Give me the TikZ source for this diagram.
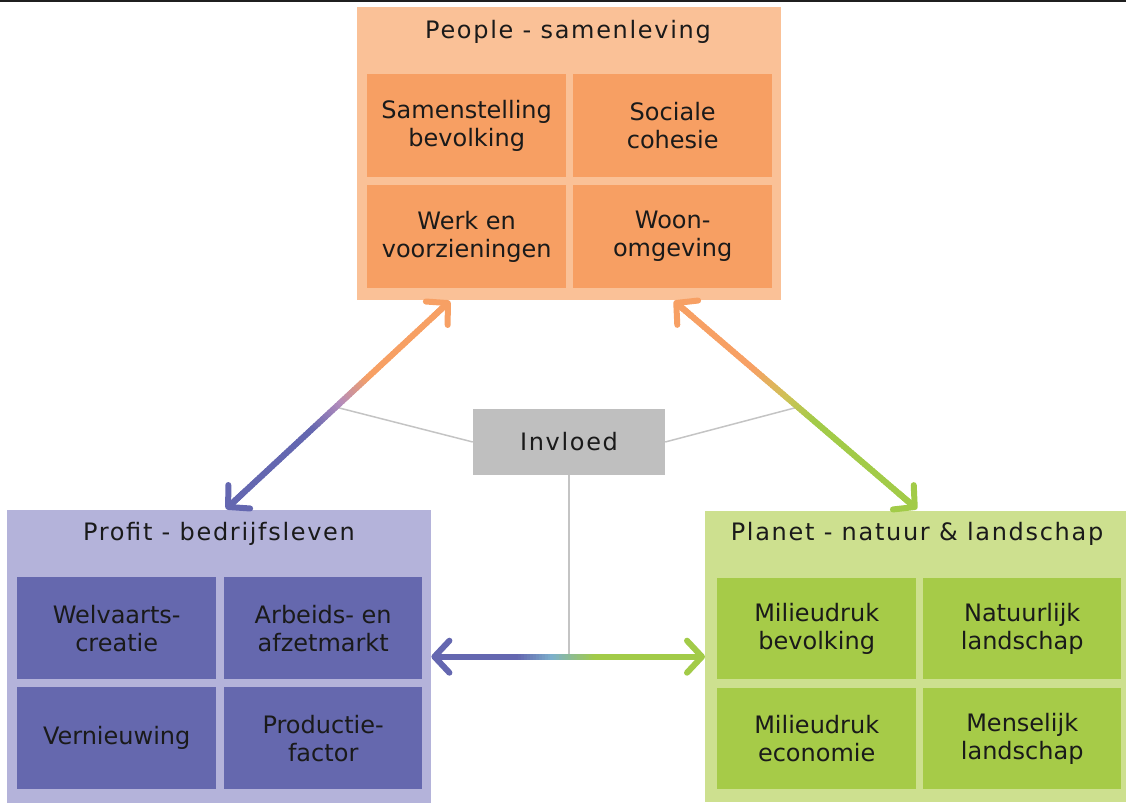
\documentclass[tikz,border=0pt]{standalone}
\usepackage{fontspec}
\setmainfont{DejaVu Sans}
\newfontfamily\titlefont[LetterSpace=7]{DejaVu Sans}
\usetikzlibrary{calc,arrows.meta}
\definecolor{peopleout}{HTML}{FAC197}
\definecolor{peoplein}{HTML}{F79F63}
\definecolor{profitout}{HTML}{B4B3DA}
\definecolor{profitin}{HTML}{6568AE}
\definecolor{planetout}{HTML}{CDE08F}
\definecolor{planetin}{HTML}{A6CB48}
\definecolor{invl}{HTML}{BFBFBF}
\definecolor{glines}{HTML}{C4C4C4}
\definecolor{aorange}{HTML}{F7A064}
\definecolor{apurple}{HTML}{6467B0}
\definecolor{agreen}{HTML}{A2CB48}
\definecolor{amauve}{HTML}{B48CBC}
\definecolor{ayellow}{HTML}{CFC257}
\definecolor{ablue}{HTML}{7CB0CC}
\definecolor{txt}{HTML}{1A1A1A}
% gradient line: #1 start, #2 end, #3 c1, #4 cmid, #5 c2, #6 t0, #7 tmid, #8 t1
\newcommand\mygradline[8]{%
  \foreach \i in {0,...,89}{%
    \pgfmathsetmacro\ta{\i/90}%
    \pgfmathsetmacro\tb{min(1,(\i+1.6)/90)}%
    \pgfmathsetmacro\tc{(\i+0.5)/90}%
    \ifdim\tc pt<#7pt
      \pgfmathtruncatemacro\p{max(0,min(100,(\tc-#6)/(#7-#6)*100))}%
      \colorlet{segc}{#4!\p!#3}%
    \else
      \pgfmathtruncatemacro\p{max(0,min(100,(\tc-#7)/(#8-#7)*100))}%
      \colorlet{segc}{#5!\p!#4}%
    \fi
    \draw[line width=6pt, segc] ($(#1)!\ta!(#2)$) -- ($(#1)!\tb!(#2)$);
  }%
}
\begin{document}
\begin{tikzpicture}[x=1pt,y=-1pt,
  outerbox/.style={anchor=north west, inner sep=0pt, minimum height=293pt, minimum width=424pt},
  cellbox/.style={anchor=north west, inner sep=0pt, minimum width=199pt, minimum height=103pt,
    align=center, text=txt, font=\fontsize{24}{28}\selectfont},
  titletext/.style={text=txt, inner sep=0pt, font=\titlefont\fontsize{24}{28}\selectfont},
  gline/.style={glines, line width=1.5pt},
  tipst/.style={line width=6pt, -{Straight Barb[length=15pt, width=32pt, round]}}]
\useasboundingbox (0,0) rectangle (1126,805);
\fill[black!88] (0,0) rectangle (1126,1.8);

% People
\node[outerbox, fill=peopleout] (people) at (357,7) {};
\node[titletext] (peopletitle) at (568,32) {People - samenleving};
\node[cellbox, fill=peoplein] (pe1) at (367,74) {Samenstelling\\bevolking};
\node[cellbox, fill=peoplein] (pe2) at (573,74) {Sociale\\cohesie};
\node[cellbox, fill=peoplein] (pe3) at (367,185) {Werk en\\voorzieningen};
\node[cellbox, fill=peoplein] (pe4) at (573,185) {Woon-\\omgeving};

% Profit
\node[outerbox, fill=profitout] (profit) at (7,510) {};
\node[titletext] (profittitle) at (219,534) {Profit - bedrijfsleven};
\node[cellbox, fill=profitin, minimum height=102pt] (pr1) at (17,577) {Welvaarts-\\creatie};
\node[cellbox, fill=profitin, minimum width=198pt, minimum height=102pt] (pr2) at (224,577) {Arbeids- en\\afzetmarkt};
\node[cellbox, fill=profitin, minimum height=102pt] (pr3) at (17,687) {Vernieuwing};
\node[cellbox, fill=profitin, minimum width=198pt, minimum height=102pt] (pr4) at (224,687) {Productie-\\factor};

% Planet
\node[outerbox, fill=planetout, minimum width=421pt, minimum height=291pt] (planet) at (705,511) {};
\node[titletext] (planettitle) at (917,534) {Planet - natuur \& landschap};
\node[cellbox, fill=planetin, minimum height=101pt] (pl1) at (717,578) {Milieudruk\\bevolking};
\node[cellbox, fill=planetin, minimum width=198pt, minimum height=101pt] (pl2) at (923,578) {Natuurlijk\\landschap};
\node[cellbox, fill=planetin, minimum height=101pt] (pl3) at (717,688) {Milieudruk\\economie};
\node[cellbox, fill=planetin, minimum width=198pt, minimum height=101pt] (pl4) at (923,688) {Menselijk\\landschap};

% Invloed
\node[fill=invl, minimum width=192pt, minimum height=66pt, inner sep=0pt,
  text=txt, font=\titlefont\fontsize{24}{28}\selectfont] (invloed) at (569,442) {Invloed};

% arrow end points
\coordinate (LT) at (450,301);
\coordinate (LB) at (226,509);
\coordinate (RT) at (674,301);
\coordinate (RB) at (917,509);
\coordinate (HL) at (profit.east);
\coordinate (HR) at (planet.west);
\coordinate (Lmid) at ($(LT)!0.51!(LB)$);
\coordinate (Rmid) at ($(RT)!0.51!(RB)$);
\coordinate (Hmid) at (invloed.south |- HL);

% grey lines
\draw[gline] (invloed.west) -- (Lmid);
\draw[gline] (invloed.east) -- (Rmid);
\draw[gline] (invloed.south) -- (Hmid);

% gradient shafts
\mygradline{$(LT)!4pt!(LB)$}{$(LB)!4pt!(LT)$}{aorange}{amauve}{apurple}{0.36}{0.49}{0.62}
\mygradline{$(RT)!4pt!(RB)$}{$(RB)!4pt!(RT)$}{aorange}{ayellow}{agreen}{0.32}{0.46}{0.58}
\mygradline{$(HL)!4pt!(HR)$}{$(HR)!4pt!(HL)$}{apurple}{ablue}{agreen}{0.31}{0.44}{0.60}

% arrow heads
\draw[tipst, aorange] ($(LT)!24pt!(LB)$) -- (LT);
\draw[tipst, apurple] ($(LB)!24pt!(LT)$) -- (LB);
\draw[tipst, aorange] ($(RT)!24pt!(RB)$) -- (RT);
\draw[tipst, agreen] ($(RB)!24pt!(RT)$) -- (RB);
\draw[tipst, apurple] ($(HL)!24pt!(HR)$) -- (HL);
\draw[tipst, agreen] ($(HR)!24pt!(HL)$) -- (HR);
\end{tikzpicture}
\end{document}
